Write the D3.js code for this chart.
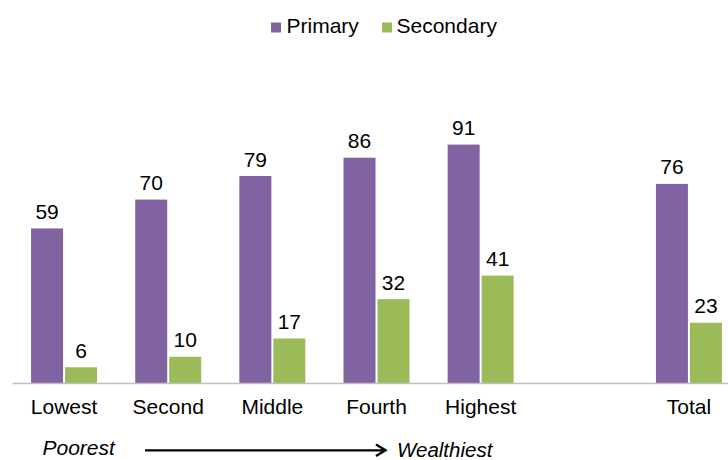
<!DOCTYPE html>
<html>
<head>
<meta charset="utf-8">
<script src="https://cdn.jsdelivr.net/npm/d3@7"></script>
<style>
  html, body { margin: 0; padding: 0; background: #fff; }
  svg { display: block; font-family: "Liberation Sans", Arial, Helvetica, sans-serif; }
</style>
</head>
<body>
<svg id="chart" width="728" height="460"></svg>
<script>
// Wealth quintiles plus the overall total; a blank slot separates Total from the quintiles.
const categories = ["Lowest", "Second", "Middle", "Fourth", "Highest", "", "Total"];
const primary    = [59, 70, 79, 86, 91, null, 76];
const secondary  = [6, 10, 17, 32, 41, null, 23];
const seriesNames = ["Primary", "Secondary"];
const colors = ["#8064A2", "#9BBB59"];

const svg = d3.select("#chart");

const x = d3.scaleBand()
  .domain(categories.map((c, i) => i))
  .range([12, 741])
  .padding(0);

const y = d3.scaleLinear().domain([0, 100]).range([383, 121]);

const barW = 32, gap = 2;

const rows = categories.map((c, i) => ({ i, c, vals: [primary[i], secondary[i]] }))
  .filter(d => d.c !== "");

// bars
const groups = svg.append("g").selectAll("g")
  .data(rows).join("g")
  .attr("transform", d => `translate(${x(d.i) + x.bandwidth() / 2},0)`);

groups.selectAll("rect")
  .data(d => d.vals.map((v, s) => ({ v, s })))
  .join("rect")
  .attr("x", d => d.s === 0 ? -(barW + gap / 2) : gap / 2)
  .attr("width", barW)
  .attr("y", d => y(d.v))
  .attr("height", d => y(0) - y(d.v))
  .attr("fill", d => colors[d.s]);

// value labels
groups.selectAll("text.val")
  .data(d => d.vals.map((v, s) => ({ v, s })))
  .join("text")
  .attr("class", "val")
  .attr("x", d => (d.s === 0 ? -(barW + gap / 2) : gap / 2) + barW / 2)
  .attr("y", d => y(d.v) - 9.5)
  .attr("text-anchor", "middle")
  .attr("font-size", 21)
  .attr("fill", "#000")
  .text(d => d.v);

// category axis
const axis = d3.axisBottom(x)
  .tickSize(0)
  .tickSizeOuter(0)
  .tickFormat(i => categories[i]);

const ax = svg.append("g")
  .attr("transform", `translate(0,${y(0)})`)
  .call(axis);
ax.select(".domain").attr("stroke", "#bfbfbf").attr("stroke-width", 1.6);
ax.selectAll(".tick text")
  .attr("y", 31).attr("dy", 0)
  .attr("font-size", 21)
  .attr("font-family", "Liberation Sans, Arial, sans-serif")
  .attr("fill", "#000");

// legend
const legendItems = [
  { name: seriesNames[0], color: colors[0], sx: 271, tx: 286.5 },
  { name: seriesNames[1], color: colors[1], sx: 382, tx: 396.5 }
];
const lg = svg.append("g");
lg.selectAll("rect").data(legendItems).join("rect")
  .attr("x", d => d.sx).attr("y", 22.5)
  .attr("width", 10).attr("height", 10)
  .attr("fill", d => d.color);
lg.selectAll("text").data(legendItems).join("text")
  .attr("x", d => d.tx).attr("y", 32.5)
  .attr("font-size", 21)
  .attr("fill", "#000")
  .text(d => d.name);

// wealth direction arrow
svg.append("text")
  .attr("x", 42.5).attr("y", 455)
  .attr("font-size", 21).attr("font-style", "italic")
  .text("Poorest");
svg.append("line")
  .attr("x1", 145).attr("x2", 384)
  .attr("y1", 450.3).attr("y2", 450.3)
  .attr("stroke", "#000").attr("stroke-width", 2.2);
svg.append("path")
  .attr("d", "M376,444.5 L385.5,450.3 L376,456.1")
  .attr("fill", "none").attr("stroke", "#000").attr("stroke-width", 2.4)
  .attr("stroke-linejoin", "miter");
svg.append("text")
  .attr("x", 397).attr("y", 456.5)
  .attr("font-size", 20.5).attr("font-style", "italic")
  .text("Wealthiest");
</script>
</body>
</html>
